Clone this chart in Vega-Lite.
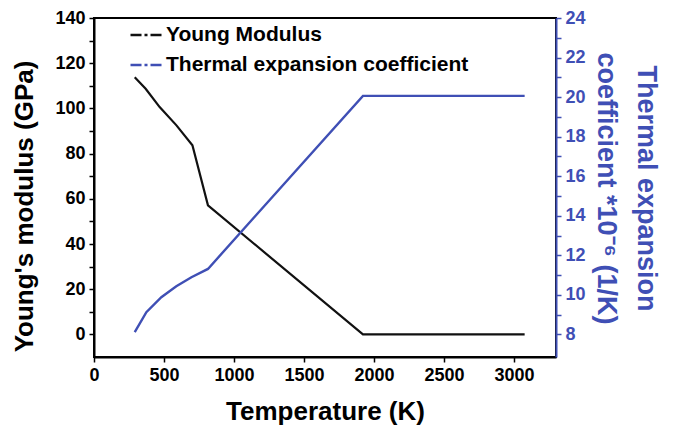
{
  "$schema": "https://vega.github.io/schema/vega-lite/v6.json",
  "width": 462,
  "height": 339,
  "autosize": {"type": "none"},
  "padding": {"left": 94, "top": 18, "right": 118, "bottom": 78},
  "background": "white",
  "config": {
    "font": "Liberation Sans",
    "view": {"stroke": "black", "strokeWidth": 2},
    "axis": {
      "labelFont": "Liberation Sans",
      "labelFontWeight": "bold",
      "labelFontSize": 18,
      "titleFont": "Liberation Sans",
      "titleFontWeight": "bold",
      "titleFontSize": 26,
      "domainWidth": 2,
      "ticks": true,
      "tickWidth": 1.5,
      "grid": false,
      "zindex": 2,
      "labelFlush": false,
      "labelOverlap": false
    }
  },
  "data": {
    "values": [
      {"series": "Young Modulus", "T": 291, "v": 113.8},
      {"series": "Young Modulus", "T": 369, "v": 108.7},
      {"series": "Young Modulus", "T": 469, "v": 100.6},
      {"series": "Young Modulus", "T": 589, "v": 92.5},
      {"series": "Young Modulus", "T": 703, "v": 83.7},
      {"series": "Young Modulus", "T": 814, "v": 57.1},
      {"series": "Young Modulus", "T": 1921, "v": 0},
      {"series": "Young Modulus", "T": 3076, "v": 0},
      {"series": "Thermal expansion coefficient", "T": 291, "v": 8.12},
      {"series": "Thermal expansion coefficient", "T": 374, "v": 9.12},
      {"series": "Thermal expansion coefficient", "T": 481, "v": 9.88},
      {"series": "Thermal expansion coefficient", "T": 588, "v": 10.43},
      {"series": "Thermal expansion coefficient", "T": 696, "v": 10.89},
      {"series": "Thermal expansion coefficient", "T": 814, "v": 11.31},
      {"series": "Thermal expansion coefficient", "T": 1921, "v": 20.06},
      {"series": "Thermal expansion coefficient", "T": 3076, "v": 20.06}
    ]
  },
  "layer": [
    {
      "transform": [{"filter": "datum.series === 'Young Modulus'"}],
      "mark": {"type": "line", "strokeWidth": 2.2},
      "encoding": {
        "x": {
          "field": "T", "type": "quantitative",
          "scale": {"domain": [0, 3300], "nice": false},
          "axis": {
            "title": "Temperature (K)",
            "values": [0, 250, 500, 750, 1000, 1250, 1500, 1750, 2000, 2250, 2500, 2750, 3000, 3250],
            "format": "d",
            "labelExpr": "datum.value % 500 === 0 ? datum.label : ''",
            "ticks": true,
            "tickSize": 5,
            "labelPadding": 4,
            "titlePadding": 14,
            "domainColor": "black",
            "tickColor": "black",
            "labelColor": "black",
            "titleColor": "black"
          }
        },
        "y": {
          "field": "v", "type": "quantitative",
          "scale": {"domain": [-10, 140], "nice": false, "zero": false},
          "axis": {
            "title": "Young's modulus (GPa)",
            "orient": "left",
            "values": [0, 10, 20, 30, 40, 50, 60, 70, 80, 90, 100, 110, 120, 130, 140],
            "labelExpr": "datum.value % 20 === 0 ? datum.label : ''",
            "ticks": true,
            "tickSize": 5,
            "labelPadding": 4,
            "titleX": -70,
            "titleY": 188,
            "titleBaseline": "middle",
            "domainColor": "black",
            "tickColor": "black",
            "labelColor": "black",
            "titleColor": "black"
          }
        },
        "color": {
          "field": "series", "type": "nominal",
          "scale": {"domain": ["Young Modulus", "Thermal expansion coefficient"], "range": ["#111111", "#3F4FB5"]},
          "legend": {
            "orient": "none",
            "legendX": 35,
            "legendY": 0,
            "title": null,
            "padding": 0,
            "symbolType": "stroke",
            "symbolSize": 961,
            "symbolStrokeWidth": 2.5,
            "symbolDash": [11, 3, 3, 3],
            "labelFont": "Liberation Sans",
            "labelFontSize": 21,
            "labelFontWeight": "bold",
            "labelColor": "black",
            "labelOffset": 3,
            "labelLimit": 0,
            "rowPadding": 3
          }
        }
      }
    },
    {
      "transform": [{"filter": "datum.series === 'Thermal expansion coefficient'"}],
      "mark": {"type": "line", "strokeWidth": 2.4},
      "encoding": {
        "x": {"field": "T", "type": "quantitative"},
        "y": {
          "field": "v", "type": "quantitative",
          "scale": {"domain": [6.857, 24], "nice": false, "zero": false},
          "axis": {
            "title": ["Thermal expansion", "coefficient *10⁻⁶ (1/K)"],
            "orient": "right",
            "values": [8, 9, 10, 11, 12, 13, 14, 15, 16, 17, 18, 19, 20, 21, 22, 23, 24],
            "labelExpr": "datum.value % 2 === 0 ? datum.label : ''",
            "ticks": true,
            "tickSize": 5,
            "labelPadding": 4,
            "titleX": 75,
            "titleY": 170,
            "titleFontSize": 27,
            "titleLineHeight": 40,
            "domainColor": "#3F4FB5",
            "tickColor": "#3F4FB5",
            "labelColor": "#3F4FB5",
            "titleColor": "#3F4FB5"
          }
        },
        "color": {"field": "series", "type": "nominal"}
      }
    }
  ],
  "resolve": {"scale": {"y": "independent"}}
}
